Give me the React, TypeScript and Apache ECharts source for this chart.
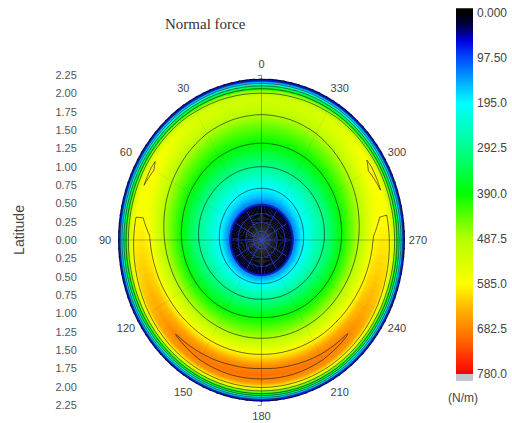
import React, { useEffect, useRef } from 'react';
import * as echarts from 'echarts';

// Sample grid of the field: angle in degrees (counter-clockwise from the top)
// and radius in latitude units.
const angles = [0, 15, 30, 45, 60, 75, 90, 105, 120, 135, 150, 165, 180, 195, 210, 225, 240, 255, 270, 285, 300, 315, 330, 345];
const radii = [0, 0.3, 0.45, 0.5, 0.6, 0.8, 1.05, 1.3, 1.55, 1.72, 1.84, 1.95, 2.03, 2.1, 2.15, 2.2];

// Normal force (N/m), one row per angle, one value per radius.
const normalForce: number[][] = [
  [2, 5, 15, 120, 165, 222, 310, 385, 445, 490, 515, 520, 470, 300, 150, 10],
  [2, 5, 15, 120, 165, 223, 310, 386, 447, 493, 519, 524, 474, 302, 150, 10],
  [2, 5, 15, 120, 167, 225, 310, 388, 452, 500, 528, 534, 482, 306, 152, 10],
  [2, 5, 15, 121, 170, 229, 310, 393, 462, 515, 548, 560, 500, 315, 155, 10],
  [2, 5, 15, 122, 174, 235, 310, 400, 475, 535, 575, 592, 520, 325, 158, 10],
  [2, 5, 15, 124, 177, 240, 312, 410, 492, 555, 575, 578, 515, 325, 158, 10],
  [2, 5, 15, 126, 180, 245, 318, 420, 510, 590, 602, 596, 520, 330, 160, 10],
  [2, 5, 15, 128, 183, 252, 330, 432, 528, 610, 625, 612, 530, 340, 165, 10],
  [2, 5, 15, 130, 186, 262, 345, 445, 545, 632, 650, 635, 545, 355, 170, 10],
  [2, 5, 15, 131, 190, 272, 360, 455, 558, 652, 684, 662, 555, 365, 175, 10],
  [2, 5, 15, 132, 193, 280, 373, 463, 568, 665, 692, 670, 560, 375, 178, 10],
  [2, 5, 15, 133, 196, 286, 383, 468, 576, 673, 698, 668, 560, 380, 180, 10],
  [2, 5, 15, 133, 198, 290, 388, 470, 580, 676, 700, 665, 560, 380, 180, 10],
  [2, 5, 15, 133, 196, 286, 383, 468, 576, 672, 697, 668, 560, 380, 180, 10],
  [2, 5, 15, 132, 193, 280, 373, 463, 568, 664, 691, 670, 560, 375, 178, 10],
  [2, 5, 15, 131, 190, 272, 360, 455, 558, 651, 685, 662, 555, 365, 175, 10],
  [2, 5, 15, 130, 186, 262, 345, 445, 545, 630, 648, 635, 545, 355, 170, 10],
  [2, 5, 15, 128, 183, 252, 330, 432, 528, 608, 623, 612, 530, 340, 165, 10],
  [2, 5, 15, 126, 180, 245, 318, 420, 510, 589, 600, 595, 520, 330, 160, 10],
  [2, 5, 15, 124, 177, 240, 312, 410, 492, 556, 577, 580, 515, 325, 158, 10],
  [2, 5, 15, 122, 174, 235, 310, 400, 475, 536, 577, 594, 520, 325, 158, 10],
  [2, 5, 15, 121, 170, 229, 310, 393, 462, 515, 548, 560, 500, 315, 155, 10],
  [2, 5, 15, 120, 167, 225, 310, 388, 452, 500, 528, 534, 482, 306, 152, 10],
  [2, 5, 15, 120, 165, 223, 310, 386, 447, 493, 519, 524, 474, 302, 150, 10],
];

const contourLevels = [97.5, 195, 292.5, 390, 487.5, 585, 682.5];

const angleLabelValues = [0, 30, 60, 90, 120, 150, 180, 210, 240, 270, 300, 330];
const angleLabels = ['0', '30', '60', '90', '120', '150', '180', '210', '240', '270', '300', '330'];
const scaleLabels = ['0.000', '97.50', '195.0', '292.5', '390.0', '487.5', '585.0', '682.5', '780.0'];
const scaleMax = 780;
const scaleStep = 97.5;

// Colour scale: black → blue → cyan → green → yellow → red
const cmapValues = [0, 30, 60, 100, 195, 290, 390, 487, 585, 640, 700, 780];
const cmapColors = ['#000000', '#000050', '#0000e0', '#0050ff', '#00ffff', '#00ff90', '#00ff00', '#b4ff00', '#ffff00', '#ffb400', '#ff7000', '#ff0000'];

const SANS = 'Liberation Sans, Arial, sans-serif';
const SERIF = 'Liberation Serif, Times New Roman, serif';

const hexToRgb = (h: string) => [parseInt(h.slice(1, 3), 16), parseInt(h.slice(3, 5), 16), parseInt(h.slice(5, 7), 16)];
const cmapRgb = cmapColors.map(hexToRgb);

function colorAt(v: number): string {
  if (v <= cmapValues[0]) return cmapColors[0];
  for (let k = 0; k < cmapValues.length - 1; k++) {
    if (v <= cmapValues[k + 1]) {
      const f = (v - cmapValues[k]) / (cmapValues[k + 1] - cmapValues[k]);
      const a = cmapRgb[k];
      const b = cmapRgb[k + 1];
      const c = a.map((x, n) => Math.round(x + (b[n] - x) * f));
      return `rgb(${c[0]},${c[1]},${c[2]})`;
    }
  }
  return cmapColors[cmapColors.length - 1];
}

const rad = (deg: number) => (deg * Math.PI) / 180;
// polar (angle, radius) → cartesian data coordinates (top = 0°, counter-clockwise)
const toXY = (theta: number, r: number) => [-r * Math.sin(rad(theta)), r * Math.cos(rad(theta))];
// screen angle used by zrender sectors
const screenAngle = (theta: number) => rad(-90 - theta);

function contourSegments(level: number) {
  const segs: number[][][] = [];
  const nA = angles.length;
  for (let i = 0; i < nA; i++) {
    const i2 = (i + 1) % nA;
    const t0 = angles[i];
    const t1 = i2 === 0 ? 360 : angles[i2];
    for (let j = 0; j < radii.length - 1; j++) {
      const r0 = radii[j];
      const r1 = radii[j + 1];
      const p = [[t0, r0], [t1, r0], [t1, r1], [t0, r1]];
      const v = [normalForce[i][j], normalForce[i2][j], normalForce[i2][j + 1], normalForce[i][j + 1]];
      const above = v.map((x) => x > level);
      const edge: (number[] | null)[] = [];
      for (let e = 0; e < 4; e++) {
        const a = e;
        const b = (e + 1) % 4;
        if (above[a] !== above[b]) {
          const f = (level - v[a]) / (v[b] - v[a]);
          edge.push([p[a][0] + (p[b][0] - p[a][0]) * f, p[a][1] + (p[b][1] - p[a][1]) * f]);
        } else edge.push(null);
      }
      const cross = [0, 1, 2, 3].filter((e) => edge[e]);
      if (cross.length === 2) {
        segs.push([edge[cross[0]]!, edge[cross[1]]!]);
      } else if (cross.length === 4) {
        const centerAbove = (v[0] + v[1] + v[2] + v[3]) / 4 > level;
        if (above[0] === centerAbove) {
          segs.push([edge[0]!, edge[1]!]);
          segs.push([edge[2]!, edge[3]!]);
        } else {
          segs.push([edge[3]!, edge[0]!]);
          segs.push([edge[1]!, edge[2]!]);
        }
      }
    }
  }
  return segs;
}

const ContourShape = echarts.graphic.extendShape({
  shape: { lines: [] as number[][][] },
  buildPath(ctx: any, shape: any) {
    for (const pts of shape.lines) {
      ctx.moveTo(pts[0][0], pts[0][1]);
      for (let k = 1; k < pts.length; k++) ctx.lineTo(pts[k][0], pts[k][1]);
    }
  },
});
echarts.graphic.registerShape('contourLines', ContourShape);

const SUB = 5;

export default function App() {
  const ref = useRef<HTMLDivElement>(null);

  useEffect(() => {
    if (!ref.current) return;
    const chart = echarts.init(ref.current, null, { renderer: 'svg' });
    const rMax = radii[radii.length - 1];
    const nA = angles.length;

    const option: any = {
      animation: false,
      backgroundColor: '#ffffff',
      title: {
        text: 'Normal force',
        left: 160,
        top: 11,
        textStyle: { fontFamily: SERIF, fontWeight: 'normal', fontSize: 15, color: '#333' },
      },
      grid: [
        { left: 114.8, top: 75, width: 293.4, height: 330 },
        { left: 456, top: 13, width: 17, height: 361 },
      ],
      xAxis: [
        { gridIndex: 0, type: 'value', min: -2.25, max: 2.25, show: false },
        { gridIndex: 1, type: 'value', min: 0, max: 1, show: false },
      ],
      yAxis: [
        {
          gridIndex: 0,
          type: 'value',
          min: -2.25,
          max: 2.25,
          interval: 0.25,
          position: 'left',
          offset: 32,
          axisLine: { show: true, lineStyle: { color: '#999', width: 1 } },
          axisTick: { show: true, length: 4, lineStyle: { color: '#999' } },
          minorTick: { show: true, splitNumber: 5, length: 2, lineStyle: { color: '#aaa' } },
          splitLine: { show: false },
          axisLabel: {
            margin: 6,
            fontFamily: SANS,
            fontSize: 11,
            color: '#555',
            formatter: (v: number) => Math.abs(v).toFixed(2),
          },
        },
        {
          gridIndex: 1,
          type: 'value',
          min: 0,
          max: scaleMax,
          interval: scaleStep,
          inverse: true,
          position: 'right',
          axisLine: { show: false },
          axisTick: { show: false },
          splitLine: { show: false },
          axisLabel: {
            margin: 4,
            fontFamily: SANS,
            fontSize: 12,
            color: '#444',
            formatter: (v: number) => scaleLabels[Math.round(v / scaleStep)],
          },
        },
      ],
      graphic: [
        {
          type: 'text',
          x: 19,
          y: 230,
          rotation: Math.PI / 2,
          style: { text: 'Latitude', fontFamily: SANS, fontSize: 14, fill: '#444', align: 'center', verticalAlign: 'middle' },
        },
        {
          type: 'text',
          x: 463,
          y: 398,
          style: { text: '(N/m)', fontFamily: SANS, fontSize: 12, fill: '#444', align: 'center', verticalAlign: 'middle' },
        },
      ],
      series: [
        // filled field
        {
          type: 'custom',
          xAxisIndex: 0,
          yAxisIndex: 0,
          data: angles.map((a, i) => [0, 0, i]),
          renderItem: (params: any, api: any) => {
            const i = params.dataIndex;
            const i2 = (i + 1) % nA;
            const t0 = angles[i];
            const t1 = i2 === 0 ? 360 : angles[i2];
            const c = api.coord([0, 0]);
            const size = api.size([1, 1]);
            const sx = size[0];
            const sy = size[1];
            const rPx = rMax * sx;
            const children: any[] = [];
            for (let m = 0; m < SUB; m++) {
              const t = (m + 0.5) / SUB;
              const prof = normalForce[i].map((v, k) => v * (1 - t) + normalForce[i2][k] * t);
              const a0 = t0 + ((t1 - t0) * m) / SUB - 0.4;
              const a1 = t0 + ((t1 - t0) * (m + 1)) / SUB + 0.4;
              const stops: any[] = [];
              for (let k = 0; k < radii.length - 1; k++) {
                for (let q = 0; q < 4; q++) {
                  const f = q / 4;
                  stops.push({
                    offset: (radii[k] + (radii[k + 1] - radii[k]) * f) / rMax,
                    color: colorAt(prof[k] + (prof[k + 1] - prof[k]) * f),
                  });
                }
              }
              stops.push({ offset: 1, color: colorAt(prof[prof.length - 1]) });
              children.push({
                type: 'sector',
                shape: { cx: c[0], cy: c[1], r0: 0, r: rPx, startAngle: screenAngle(a1), endAngle: screenAngle(a0), clockwise: true },
                scaleY: sy / sx,
                originX: c[0],
                originY: c[1],
                style: { fill: { type: 'radial', x: c[0], y: c[1], r: rPx, global: true, colorStops: stops } },
              });
            }
            return { type: 'group', children };
          },
        },
        // contour lines
        {
          type: 'custom',
          xAxisIndex: 0,
          yAxisIndex: 0,
          data: contourLevels.map((l, i) => [0, 0, i]),
          renderItem: (params: any, api: any) => {
            const level = contourLevels[params.dataIndex];
            const lines = contourSegments(level).map(([a, b]) => {
              const pts: number[][] = [];
              for (let s = 0; s <= 4; s++) {
                const f = s / 4;
                const th = a[0] + (b[0] - a[0]) * f;
                const r = a[1] + (b[1] - a[1]) * f;
                pts.push(api.coord(toXY(th, r)));
              }
              return pts;
            });
            return {
              type: 'contourLines',
              shape: { lines },
              style: { stroke: '#1a1a1a', lineWidth: 0.8, fill: 'none', opacity: 0.8 },
            };
          },
        },
        // polar grid lines and angle labels
        {
          type: 'custom',
          xAxisIndex: 0,
          yAxisIndex: 0,
          data: [[0, 0]],
          renderItem: (params: any, api: any) => {
            const children: any[] = [];
            const blobR = 0.45;
            for (const th of angleLabelValues) {
              const p0 = api.coord([0, 0]);
              const p1 = api.coord(toXY(th, blobR));
              const p2 = api.coord(toXY(th, rMax));
              children.push({
                type: 'line',
                shape: { x1: p0[0], y1: p0[1], x2: p1[0], y2: p1[1] },
                style: { stroke: '#2a48ff', lineWidth: 0.8, opacity: 0.8 },
              });
              const main = th % 90 === 0;
              children.push({
                type: 'line',
                shape: { x1: p1[0], y1: p1[1], x2: p2[0], y2: p2[1] },
                style: { stroke: '#222', lineWidth: 0.6, opacity: main ? 0.55 : 0.12 },
              });
            }
            for (const rr of [0.12, 0.24, 0.36]) {
              const pts: number[][] = [];
              for (let a = 0; a <= 360; a += 5) pts.push(api.coord(toXY(a, rr)));
              children.push({ type: 'polyline', shape: { points: pts }, style: { stroke: '#2a48ff', lineWidth: 0.8, opacity: 0.8, fill: 'none' } });
            }
            const rLab = 2.4;
            angleLabelValues.forEach((th, k) => {
              const p = api.coord(toXY(th, rLab));
              children.push({
                type: 'text',
                x: p[0],
                y: p[1],
                style: { text: angleLabels[k], fontFamily: SANS, fontSize: 11, fill: '#444', align: 'center', verticalAlign: 'middle' },
              });
            });
            return { type: 'group', children };
          },
        },
        // colour bar
        {
          type: 'custom',
          xAxisIndex: 1,
          yAxisIndex: 1,
          data: [[0.5, 0]],
          renderItem: (params: any, api: any) => {
            const top = api.coord([0, -10]);
            const zero = api.coord([0, 0]);
            const end = api.coord([1, scaleMax]);
            const grey = api.coord([1, scaleMax + 15]);
            const stops = cmapValues.map((v, k) => ({ offset: v / scaleMax, color: cmapColors[k] }));
            return {
              type: 'group',
              children: [
                {
                  type: 'rect',
                  shape: { x: top[0], y: top[1], width: end[0] - top[0], height: end[1] - top[1] },
                  style: { fill: { type: 'linear', x: 0, y: zero[1], x2: 0, y2: end[1], global: true, colorStops: stops } },
                },
                {
                  type: 'rect',
                  shape: { x: top[0], y: end[1], width: end[0] - top[0], height: grey[1] - end[1] },
                  style: { fill: '#c4c4cc' },
                },
              ],
            };
          },
        },
      ],
    };
    chart.setOption(option);
    return () => chart.dispose();
  }, []);

  return (
    <div
      ref={ref}
      style={{ position: 'fixed', left: 0, top: 0, width: 512, height: 423, background: '#fff' }}
    />
  );
}
